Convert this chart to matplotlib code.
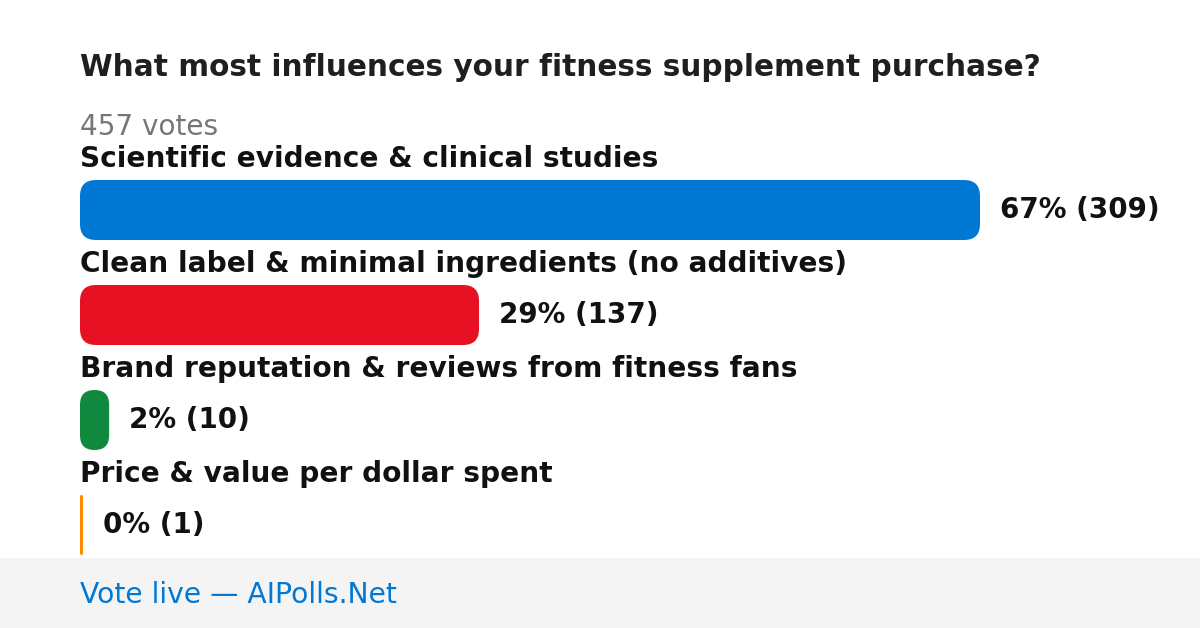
import matplotlib
matplotlib.use("Agg")
from matplotlib import pyplot as plt
from matplotlib.patches import FancyBboxPatch, Rectangle

plt.rcParams['font.family'] = ['DejaVu Sans']

# poll data
title = "What most influences your fitness supplement purchase?"
total_votes = 457
options = [
    "Scientific evidence & clinical studies",
    "Clean label & minimal ingredients (no additives)",
    "Brand reputation & reviews from fitness fans",
    "Price & value per dollar spent",
]
votes = [309, 137, 10, 1]
percents = [67, 29, 2, 0]
colors = ["#0078d4", "#e81123", "#10893e", "#ff8c00"]
footer = "Vote live \u2014 AIPolls.Net"

W, H = 1200, 628
fig = plt.figure(figsize=(W / 100, H / 100), dpi=100)
ax = fig.add_axes([0, 0, 1, 1])
ax.set_xlim(0, W)
ax.set_ylim(H, 0)
ax.axis("off")

left = 80
full = 900  # length of the largest bar
bar_h = 60
top0 = 180
step = 105

ax.text(left, 68, title, fontsize=21.3, fontweight="bold", color="#1f1f1f",
        va="center", ha="left")
ax.text(left, 127, f"{total_votes} votes", fontsize=20.1, color="#767676",
        va="center", ha="left")

vmax = max(votes)
for i, (name, v, p, c) in enumerate(zip(options, votes, percents, colors)):
    y = top0 + i * step
    ax.text(left, y - 21, name, fontsize=20.2, fontweight="bold", color="#111111",
            va="center", ha="left")
    w = max(v / vmax * full, 3)
    r = min(16, w / 2)
    ax.add_patch(FancyBboxPatch((left, y), w, bar_h,
                                boxstyle=f"round,pad=0,rounding_size={r}",
                                fc=c, ec="none"))
    ax.text(left + w + 20, y + bar_h / 2, f"{p}% ({v})", fontsize=20,
            fontweight="bold", color="#111111", va="center", ha="left")

ax.add_patch(Rectangle((0, 558), W, H - 558, fc="#f4f4f4", ec="none"))
ax.text(left, 595, footer, fontsize=20.3, color="#0078d4", va="center", ha="left")

fig.savefig("out.png", dpi=100)
